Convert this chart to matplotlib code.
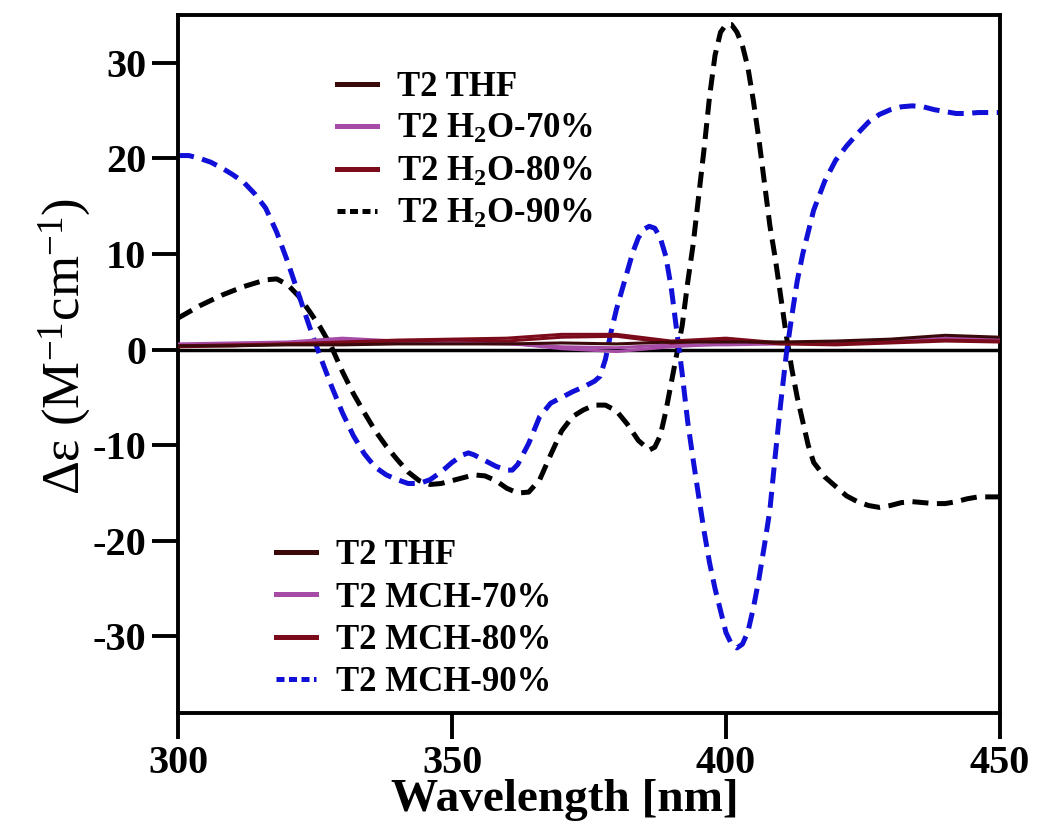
import numpy as np
import matplotlib
matplotlib.use("Agg")
import matplotlib.pyplot as plt
from matplotlib.lines import Line2D

plt.rcParams['font.family'] = ['Liberation Serif', 'DejaVu Serif']
plt.rcParams['font.weight'] = 'bold'
plt.rcParams['mathtext.default'] = 'regular'
plt.rcParams['axes.unicode_minus'] = False

# CD spectra, T2 in THF and in THF/H2O or THF/MCH mixtures
x_flat = [300, 310, 320, 330, 340, 350, 360, 370, 380, 390, 400, 410, 420, 430, 440, 450]
thf = [0.4, 0.4, 0.5, 0.5, 0.6, 0.6, 0.6, 0.7, 0.6, 0.8, 0.8, 0.8, 0.9, 1.1, 1.5, 1.3]
h2o_70 = [0.6, 0.7, 0.8, 1.2, 0.9, 0.8, 0.7, 0.1, -0.2, 0.3, 0.6, 0.7, 0.6, 0.8, 1.0, 1.1]
h2o_80 = [0.4, 0.5, 0.6, 0.8, 1.0, 1.1, 1.2, 1.6, 1.6, 0.9, 1.2, 0.7, 0.6, 0.8, 1.0, 0.9]
mch_70 = [0.5, 0.6, 0.7, 1.0, 0.8, 0.7, 0.6, 0.3, 0.2, 0.5, 0.5, 0.6, 0.8, 0.9, 1.2, 1.2]
mch_80 = [0.3, 0.4, 0.6, 0.7, 0.9, 1.0, 0.9, 1.3, 1.4, 0.7, 1.0, 0.6, 0.5, 0.7, 0.9, 0.8]

h2o_90_x = [300, 304, 308, 312, 316, 318, 320, 322, 324, 326, 328, 330, 332, 334, 336,
            338, 340, 342, 344, 346, 348, 350, 352, 354, 356, 358, 360, 362, 364, 366,
            368, 370, 372, 374, 376, 378, 380, 382, 384, 386, 387, 388, 389, 390, 391,
            392, 393, 394, 395, 396, 397, 398, 399, 400, 401, 402, 403, 404, 405, 406,
            407, 408, 409, 410, 411, 412, 413, 414, 415, 416, 418, 420, 422, 424, 426,
            428, 430, 432, 434, 436, 438, 440, 442, 444, 446, 448, 450]
h2o_90 = [3.3, 4.6, 5.7, 6.6, 7.3, 7.4, 6.8, 5.6, 4.0, 2.3, 0.3, -2.3, -4.6, -6.6, -8.5,
          -10.1, -11.5, -12.8, -13.7, -14.1, -14.0, -13.7, -13.4, -13.1, -13.2, -13.7, -14.5, -15.0, -14.9, -13.6,
          -11.0, -8.5, -7.0, -6.3, -5.8, -5.8, -6.4, -7.8, -9.5, -10.5, -10.2, -9.0, -6.5, -3.5, -0.5,
          2.5, 7.0, 11.0, 16.0, 21.0, 26.5, 30.8, 33.2, 34.0, 34.0, 33.2, 31.8, 29.5, 26.0, 22.0,
          17.5, 13.0, 9.5, 5.5, 1.5, -2.0, -5.0, -7.5, -10.0, -11.8, -13.3, -14.3, -15.3, -15.9, -16.3,
          -16.5, -16.3, -16.0, -15.9, -16.0, -16.1, -16.1, -15.9, -15.6, -15.4, -15.4, -15.4]

mch_90_x = [300, 302, 304, 306, 308, 310, 312, 314, 316, 318, 320, 322, 324, 326, 328,
            330, 332, 334, 336, 338, 340, 342, 344, 346, 348, 350, 352, 353, 354, 356,
            358, 360, 361, 362, 364, 366, 368, 370, 372, 374, 376, 377, 378, 379, 380,
            381, 382, 383, 384, 385, 386, 387, 388, 389, 390, 391, 392, 393, 394, 395,
            396, 397, 398, 399, 400, 401, 402, 403, 404, 405, 406, 407, 408, 409, 410,
            411, 412, 413, 414, 415, 416, 418, 420, 422, 424, 426, 428, 430, 432, 434,
            436, 438, 440, 442, 444, 446, 448, 450]
mch_90 = [20.3, 20.3, 20.0, 19.6, 19.0, 18.3, 17.5, 16.3, 14.8, 12.3, 9.2, 5.8, 2.4, -0.8, -3.8,
          -6.6, -9.0, -10.9, -12.3, -13.1, -13.6, -14.0, -14.0, -13.6, -12.8, -11.8, -11.0, -10.8, -11.0, -11.6,
          -12.2, -12.6, -12.6, -12.0, -9.8, -7.0, -5.6, -5.0, -4.4, -3.9, -3.3, -2.8, -1.0, 1.8, 4.2,
          6.2, 8.2, 10.2, 11.7, 12.6, 12.9, 12.7, 11.7, 9.8, 6.5, 2.0, -2.5, -7.5, -11.5, -15.3,
          -19.0, -22.3, -25.0, -27.3, -29.6, -30.8, -31.2, -30.8, -29.5, -27.0, -24.0, -20.5, -16.8, -11.0, -5.5,
          -0.5, 3.5, 7.2, 10.0, 12.3, 14.6, 17.6, 19.8, 21.3, 22.6, 23.8, 24.6, 25.1, 25.4, 25.5,
          25.4, 25.1, 24.9, 24.7, 24.7, 24.8, 24.8, 24.8]

c_thf = '#3a0a0a'
c_70 = '#a64ca6'
c_80 = '#7b0a1a'
c_h2o90 = 'black'
c_mch90 = '#1010d8'

fig, ax = plt.subplots(figsize=(10.38, 8.25), dpi=100)
fig.subplots_adjust(left=0.1715, right=0.9634, bottom=0.1358, top=0.9818)

ax.axhline(0, color='black', lw=2.5, zorder=1)
dash = (3.2, 1.7)
ax.plot(h2o_90_x, h2o_90, color=c_h2o90, lw=3.6, ls=(0, dash), zorder=2)
ax.plot(mch_90_x, mch_90, color=c_mch90, lw=3.6, ls=(0, dash), zorder=2)
for ys, c in [(mch_70, c_70), (h2o_70, c_70), (mch_80, c_80), (h2o_80, c_80), (thf, c_thf)]:
    ax.plot(x_flat, ys, color=c, lw=2.2, zorder=3)

ax.set_xlim(300, 450)
ax.set_ylim(-38, 35)
ax.set_xticks([300, 350, 400, 450])
ax.set_yticks([-30, -20, -10, 0, 10, 20, 30])
ax.tick_params(direction='out', length=19, width=2.8, labelsize=29, pad=4)
for sp in ax.spines.values():
    sp.set_linewidth(2.8)

ax.set_xlabel('Wavelength [nm]', fontsize=34, fontweight='bold')
ax.xaxis.set_label_coords(0.47, -0.095)
ax.set_ylabel('Δε (M$^{-1}$cm$^{-1}$)', fontsize=38, fontweight='normal')
ax.yaxis.set_label_coords(-0.104, 0.525)

leg_kw = dict(frameon=False, fontsize=25, handlelength=1.15, handletextpad=0.58,
              labelspacing=0.27, borderpad=0, borderaxespad=0, loc='upper left')

upper = [Line2D([], [], color=c_thf, lw=3.6),
         Line2D([], [], color=c_70, lw=3.6),
         Line2D([], [], color=c_80, lw=3.6),
         Line2D([], [], color=c_h2o90, lw=3.6, ls=(0, (1.6, 0.9)))]
leg1 = ax.legend(upper, ['T2 THF', 'T2 H$_2$O-70%', 'T2 H$_2$O-80%', 'T2 H$_2$O-90%'],
                 bbox_to_anchor=(0.193, 0.92), **leg_kw)
ax.add_artist(leg1)

lower = [Line2D([], [], color=c_thf, lw=3.6),
         Line2D([], [], color=c_70, lw=3.6),
         Line2D([], [], color=c_80, lw=3.6),
         Line2D([], [], color=c_mch90, lw=3.6, ls=(0, (1.6, 0.9)))]
ax.legend(lower, ['T2 THF', 'T2 MCH-70%', 'T2 MCH-80%', 'T2 MCH-90%'],
          bbox_to_anchor=(0.119, 0.249), **leg_kw)

fig.savefig('out.png', dpi=100)
